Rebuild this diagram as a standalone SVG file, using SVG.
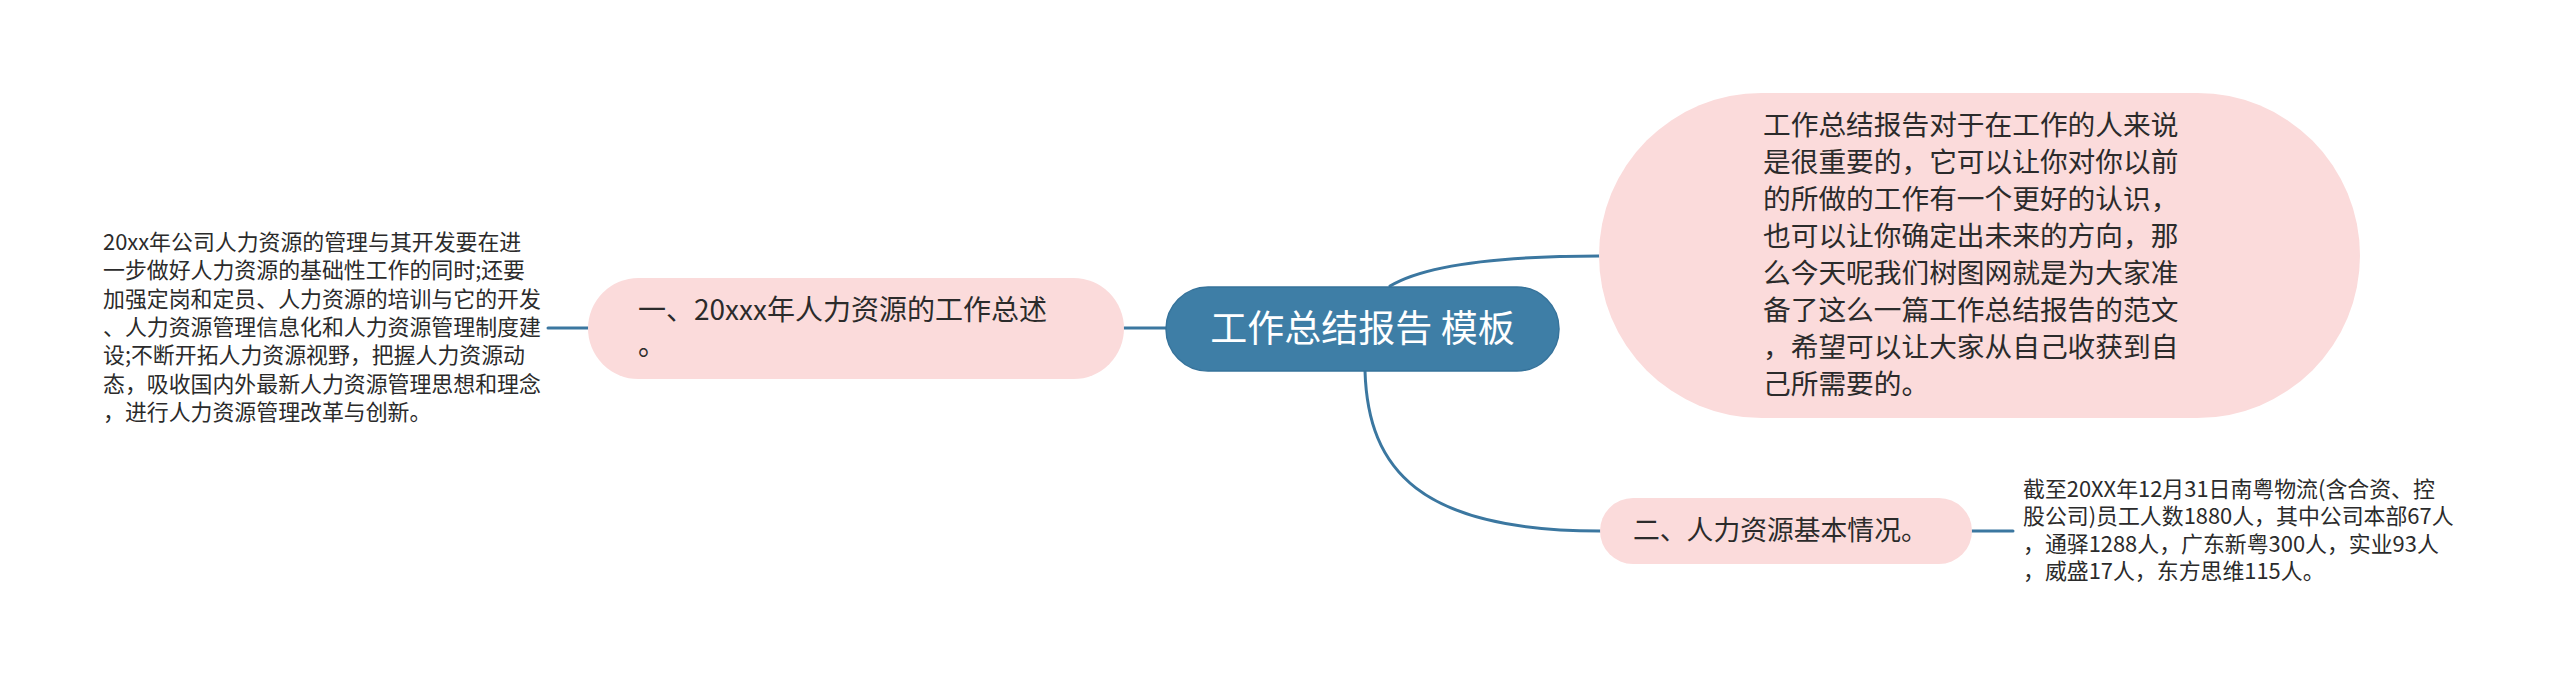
<svg xmlns="http://www.w3.org/2000/svg" width="2560" height="691" viewBox="0 0 2560 691">
<style>
.bg{fill:#ffffff}
.edge{fill:none;stroke:#3b77a0;stroke-width:3;stroke-linecap:round}
.pink{fill:#fbdbdb}
.root{fill:#3e7ea6;stroke:#36739b;stroke-width:1.5}
.t{font-family:"Noto Sans CJK SC","Noto Sans",sans-serif;fill:#2b2b2b}
.rt{font-family:"Noto Sans CJK SC","Noto Sans",sans-serif;fill:#ffffff;font-size:37px}
.m{font-size:27.7px}
.s{font-size:21.9px}
</style>
<rect class="bg" x="0" y="0" width="2560" height="691"/>
<g id="connectors">
<path class="edge" d="M1166,328 L1124,328"/>
<path class="edge" d="M588,328 L548,328"/>
<path class="edge" d="M1390,286 Q1440,256 1599,256"/>
<path class="edge" d="M1365,371 C1368,470 1420,531 1600,531"/>
<path class="edge" d="M1972,531 L2013,531"/>
</g>
<g id="root">
<rect class="root" x="1166" y="287" width="393" height="84" rx="42"/>
<text class="rt" x="1362.5" y="342" text-anchor="middle">工作总结报告 模板</text>
</g>
<g id="node1">
<rect class="pink" x="588" y="278" width="536" height="101" rx="50.5"/>
<text class="t" style="font-size:28px" x="638" y="320">一、20xxx年人力资源的工作总述</text>
<text class="t" style="font-size:28px" x="638" y="355">。</text>
</g>
<g id="node1-detail">
<text class="t s" x="103" y="250">20xx年公司人力资源的管理与其开发要在进</text>
<text class="t s" x="103" y="278.3">一步做好人力资源的基础性工作的同时;还要</text>
<text class="t s" x="103" y="306.6">加强定岗和定员、人力资源的培训与它的开发</text>
<text class="t s" x="103" y="334.9">、人力资源管理信息化和人力资源管理制度建</text>
<text class="t s" x="103" y="363.2">设;不断开拓人力资源视野，把握人力资源动</text>
<text class="t s" x="103" y="391.5">态，吸收国内外最新人力资源管理思想和理念</text>
<text class="t s" x="103" y="419.8">，进行人力资源管理改革与创新。</text>
</g>
<g id="node-intro">
<rect class="pink" x="1599" y="93" width="761" height="325" rx="162.5"/>
<text class="t m" x="1763" y="135">工作总结报告对于在工作的人来说</text>
<text class="t m" x="1763" y="172">是很重要的，它可以让你对你以前</text>
<text class="t m" x="1763" y="209">的所做的工作有一个更好的认识，</text>
<text class="t m" x="1763" y="246">也可以让你确定出未来的方向，那</text>
<text class="t m" x="1763" y="283">么今天呢我们树图网就是为大家准</text>
<text class="t m" x="1763" y="320">备了这么一篇工作总结报告的范文</text>
<text class="t m" x="1763" y="357">，希望可以让大家从自己收获到自</text>
<text class="t m" x="1763" y="394">己所需要的。</text>
</g>
<g id="node2">
<rect class="pink" x="1600" y="498" width="372" height="66" rx="33"/>
<text class="t" style="font-size:26.8px" x="1633" y="540">二、人力资源基本情况。</text>
</g>
<g id="node2-detail">
<text class="t s" x="2023" y="497">截至20XX年12月31日南粤物流(含合资、控</text>
<text class="t s" x="2023" y="524.3">股公司)员工人数1880人，其中公司本部67人</text>
<text class="t s" x="2023" y="551.6">，通驿1288人，广东新粤300人，实业93人</text>
<text class="t s" x="2023" y="578.9">，威盛17人，东方思维115人。</text>
</g>
</svg>
